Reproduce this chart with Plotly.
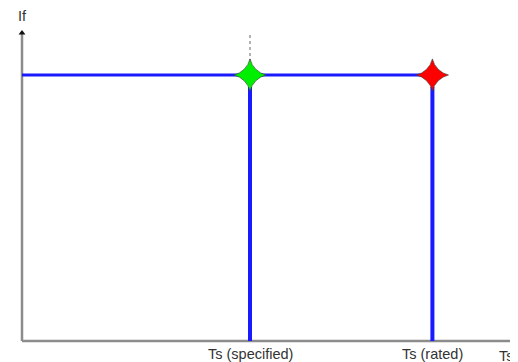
import plotly.graph_objects as go

# Data (conceptual units)
ts_points = [1.0, 1.8]                     # Ts (specified), Ts (rated)
tick_labels = ["Ts (specified)", "Ts (rated)"]
if_level = 1.0
marker_colors = ["#00ee00", "#ff0000"]
x_axis_title = "Ts"
y_axis_title = "If"

# page body has an 8px margin, so the figure is drawn 8px in from the corner
W, H = 518, 354
X0, X1 = -14 / 228, (W - 14) / 228
Y0, Y1 = -(H - 333) / 266, 333 / 266
y_top = (341 - 33) / 266
dot_bottom = (341 - 68) / 266
vert_top = (341 - 87) / 266

fig = go.Figure()

# horizontal If line
fig.add_trace(go.Scatter(x=[0, ts_points[1]], y=[if_level, if_level], mode="lines",
                         line=dict(color="#1a1aff", width=3), hoverinfo="skip"))
# vertical lines
for t in ts_points:
    fig.add_trace(go.Scatter(x=[t, t], y=[0, vert_top], mode="lines",
                             line=dict(color="#1a1aff", width=4), hoverinfo="skip"))
# dotted line above specified point
fig.add_trace(go.Scatter(x=[ts_points[0], ts_points[0]], y=[dot_bottom, y_top], mode="lines",
                         line=dict(color="#999999", width=1.5, dash="dot"), hoverinfo="skip"))
# stars
fig.add_trace(go.Scatter(x=ts_points, y=[if_level] * len(ts_points), mode="markers",
                         marker=dict(symbol="star-diamond", size=23, color=marker_colors,
                                     line=dict(color="rgba(60,60,60,0.6)", width=1)),
                         hoverinfo="skip"))

# axes lines
fig.add_shape(type="line", x0=0, x1=X1 + 0.1, y0=0, y1=0,
              line=dict(color="#8c8c8c", width=2.5), layer="below")
fig.add_shape(type="line", x0=0, x1=0, y0=0, y1=y_top,
              line=dict(color="#8c8c8c", width=2.5), layer="below")
# arrow tip on y axis
fig.add_trace(go.Scatter(x=[0], y=[y_top], mode="markers",
                         marker=dict(symbol="triangle-up", size=6, color="#111111"),
                         hoverinfo="skip"))

FONT = dict(family="Liberation Sans", size=14.5, color="#333333")
annotations = []
for t, lab in zip(ts_points, tick_labels):
    annotations.append(dict(x=t, y=(341 - 354) / 266, text=lab, showarrow=False,
                            xanchor="center", yanchor="middle", font=FONT))
annotations.append(dict(x=(497 - 22) / 228, y=(341 - 356) / 266, text=x_axis_title,
                        showarrow=False, xanchor="left", yanchor="middle", font=FONT))
annotations.append(dict(x=0, y=(341 - 16) / 266, text=y_axis_title, showarrow=False,
                        xanchor="center", yanchor="middle", font=FONT))

fig.update_layout(
    width=W, height=H,
    margin=dict(l=0, r=0, t=0, b=0),
    paper_bgcolor="white", plot_bgcolor="white",
    showlegend=False,
    xaxis=dict(range=[X0, X1], visible=False, fixedrange=True),
    yaxis=dict(range=[Y0, Y1], visible=False, fixedrange=True),
    annotations=annotations,
)

fig.write_html("out.html")
